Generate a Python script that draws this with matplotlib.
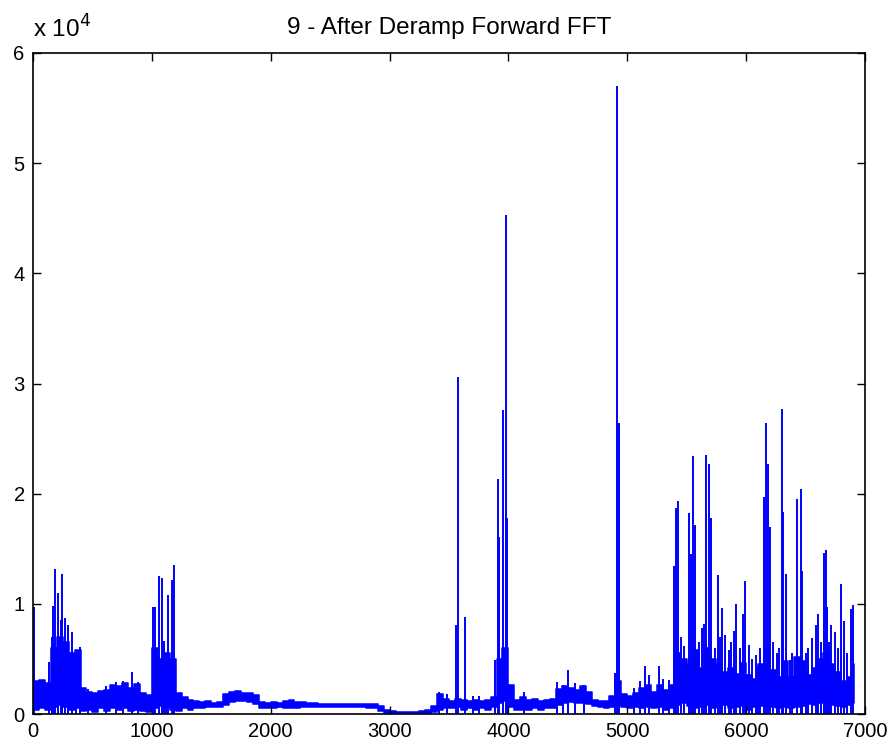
import numpy as np
import matplotlib.pyplot as plt

plt.rcParams['font.family'] = ['Liberation Sans', 'DejaVu Sans']

# noise band of the spectrum: (low, top) per 50-bin chunk, in 1e3 units
chunk_width = 50
band_low = [0.4, 0.5, 0.4, 0.6, 0.8, 0.6, 0.4, 0.5, 0.3, 0.4,
            0.2, 0.5, 0.3, 0.5, 0.4, 0.5, 0.3, 0.4, 0.3, 0.2,
            0.5, 0.7, 0.6, 0.4, 0.3, 0.5, 0.4, 0.5, 0.5, 0.6,
            0.6, 0.6, 0.8, 1.1, 1.2, 1.2, 1.1, 0.9, 0.5, 0.5,
            0.5, 0.6, 0.5, 0.5, 0.5, 0.6, 0.6, 0.6, 0.6, 0.6,
            0.6, 0.65, 0.6, 0.6, 0.6, 0.6, 0.55, 0.5, 0.3, 0.1,
            0.05, 0.05, 0.05, 0.05, 0.05, 0.05, 0.1, 0.2, 0.4, 0.5,
            0.5, 0.6, 0.4, 0.5, 0.4, 0.5, 0.4, 0.6, 1.0, 1.2,
            0.6, 0.4, 0.4, 0.4, 0.5, 0.4, 0.5, 0.5, 0.8, 1.0,
            1.1, 1.0, 1.0, 0.9, 0.7, 0.6, 0.5, 0.6, 0.8, 0.6,
            0.5, 0.6, 0.5, 0.6, 0.5, 0.6, 0.4, 0.5, 0.8, 1.0,
            0.7, 0.5, 0.6, 0.8, 0.5, 0.6, 0.8, 0.5, 0.6, 0.7,
            0.4, 0.6, 0.7, 0.8, 0.6, 0.5, 0.6, 0.5, 0.6, 0.7,
            0.9, 0.8, 1.0, 1.2, 0.8, 0.7, 0.6, 0.8, 1.0]
band_top = [3.0, 3.1, 2.8, 6.0, 7.0, 6.5, 5.5, 5.8, 2.4, 2.0,
            1.9, 2.1, 2.2, 2.6, 2.5, 2.8, 2.4, 2.7, 1.9, 1.7,
            6.0, 5.0, 5.5, 5.0, 1.9, 1.5, 1.3, 1.2, 1.1, 1.2,
            1.0, 1.1, 1.8, 2.0, 2.1, 1.9, 1.9, 1.7, 1.1, 1.0,
            1.1, 1.0, 1.2, 1.3, 1.1, 1.1, 1.0, 1.0, 0.95, 0.95,
            0.9, 0.9, 0.9, 0.95, 0.9, 0.9, 0.95, 0.9, 0.7, 0.35,
            0.25, 0.2, 0.2, 0.2, 0.2, 0.25, 0.4, 0.7, 1.8, 1.4,
            1.2, 1.4, 1.3, 1.2, 1.3, 1.2, 1.3, 1.5, 5.0, 6.0,
            2.6, 1.3, 1.5, 1.3, 1.4, 1.2, 1.3, 1.4, 2.3, 2.5,
            2.4, 2.2, 2.5, 2.0, 1.3, 1.2, 1.2, 1.6, 3.0, 1.8,
            1.6, 1.9, 2.4, 2.6, 2.0, 2.6, 2.2, 2.6, 5.5, 5.0,
            4.5, 5.8, 4.2, 6.0, 5.0, 4.5, 3.8, 4.2, 3.6, 4.6,
            3.5, 3.2, 4.5, 6.0, 4.0, 3.4, 4.8, 3.4, 5.2, 4.8,
            3.5, 4.2, 5.0, 5.5, 4.5, 3.8, 3.0, 3.4, 4.5]
data_end = 6910

# single-bin peaks (bin, amplitude in 1e3 units)
peak_bin = [5, 135, 157, 172, 185, 214, 236, 247, 272, 298, 332, 360, 393,
            460, 610, 700, 760, 830, 880,
            1006, 1028, 1057, 1082, 1104, 1118, 1133, 1169, 1183,
            3420, 3480, 3558, 3572, 3634, 3700, 3750,
            3890, 3910, 3924, 3958, 3976, 3991,
            4130, 4407, 4460, 4505, 4560, 4640,
            4893, 4913, 4927,
            5060, 5110, 5152, 5185, 5264, 5300, 5348,
            5396, 5410, 5427, 5450, 5480, 5517, 5537, 5554, 5568, 5600, 5630,
            5644, 5666, 5686, 5706, 5740, 5765, 5780, 5798, 5818, 5855, 5870,
            5897, 5911, 5950, 5975, 5989, 6023, 6050, 6079, 6099, 6120, 6149,
            6169, 6186, 6200, 6230, 6262, 6280, 6298, 6312, 6332, 6368, 6390,
            6425, 6459, 6473, 6500, 6520, 6557, 6585, 6605, 6630, 6655, 6669,
            6683, 6700, 6717, 6748, 6770, 6796, 6824, 6850, 6880, 6900]
peak_amp = [9.7, 4.7, 7.0, 9.8, 13.2, 11.0, 8.5, 12.7, 8.7, 8.1, 7.4, 5.8, 6.1,
            2.3, 2.5, 2.9, 3.0, 3.8, 2.9,
            9.7, 9.7, 12.5, 12.3, 6.6, 4.3, 10.8, 12.2, 13.5,
            2.0, 1.8, 8.1, 30.6, 8.8, 1.6, 1.6,
            4.9, 21.3, 16.1, 27.6, 45.3, 17.8,
            2.0, 2.9, 2.6, 4.0, 2.8, 2.6,
            3.7, 57.0, 26.4,
            2.4, 3.0, 4.4, 3.5, 4.4, 3.2, 3.1,
            13.4, 18.7, 19.3, 7.0, 6.2, 18.2, 14.5, 23.4, 17.2, 6.5, 7.8,
            8.2, 23.5, 22.7, 17.8, 6.0, 12.6, 7.0, 9.6, 7.2, 5.8, 6.5,
            7.5, 10.0, 6.0, 9.1, 12.1, 6.3, 5.0, 5.4, 4.4, 6.0, 19.7,
            26.4, 22.7, 17.0, 6.5, 5.5, 6.0, 27.7, 18.3, 12.7, 4.9, 5.5,
            19.5, 20.4, 13.0, 5.5, 6.0, 6.9, 8.1, 9.1, 6.5, 14.6, 14.9,
            9.7, 6.5, 8.1, 7.4, 6.0, 11.8, 8.4, 5.5, 9.5, 9.9]

# plot in units of 1e4 like the MATLAB axis
x_band = np.append(np.arange(len(band_low)) * chunk_width, data_end)
low = np.append(band_low, band_low[-1]) / 10
top = np.append(band_top, band_top[-1]) / 10

fig = plt.figure(figsize=(8.92, 7.49), dpi=100)
ax = fig.add_axes([33 / 892, 35 / 749, 832 / 892, 661 / 749])

ax.fill_between(x_band, low, top, step='post', facecolor='blue',
                edgecolor='blue', linewidth=1.1)
ax.vlines(peak_bin, 0, np.array(peak_amp) / 10, color='blue', linewidth=1.4)

ax.set_xlim(0, 7000)
ax.set_ylim(0, 6)
ax.set_xticks(range(0, 7001, 1000))
ax.set_yticks(range(0, 7))
ax.tick_params(direction='in', top=True, right=True, length=6, width=1,
               labelsize=14.5, pad=6)
for s in ax.spines.values():
    s.set_linewidth(1.2)

ax.set_title('9 - After Deramp Forward FFT', fontsize=17.5, pad=14)
ax.text(0.0, 1.015, 'x 10$^{4}$', transform=ax.transAxes, fontsize=17.5,
        ha='left', va='bottom')

fig.savefig('out.png', dpi=100)
